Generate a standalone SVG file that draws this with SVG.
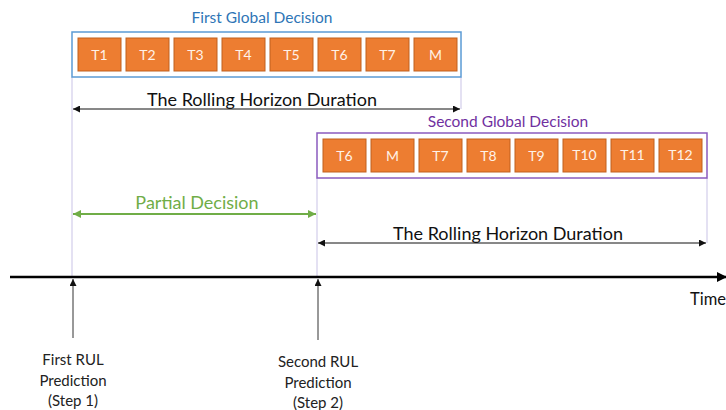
<svg xmlns="http://www.w3.org/2000/svg" width="726" height="410" viewBox="0 0 726 410">
<defs>
<style>
text{font-family:Lato,"Open Sans","Liberation Sans",sans-serif}
.tile rect{fill:#ED7D31;stroke:#C0601F;stroke-width:1}
.tile text{fill:#FFF2E8;font-size:14px;text-anchor:middle}
.guide{stroke:#C9C3E6;stroke-width:1;fill:none}
.dur{stroke:#111;stroke-width:1;fill:none}
.lbl{font-size:18px;fill:#111;text-anchor:middle}
.cap{font-size:15px;fill:#222;text-anchor:middle}
</style>
<marker id="ah" viewBox="0 0 10 10" refX="10" refY="5" markerWidth="8" markerHeight="7" markerUnits="userSpaceOnUse" orient="auto-start-reverse"><path d="M0,0 L10,5 L0,10 z" fill="#111"/></marker>
<marker id="ahg" viewBox="0 0 10 10" refX="10" refY="5" markerWidth="8" markerHeight="8" markerUnits="userSpaceOnUse" orient="auto-start-reverse"><path d="M0,0 L10,5 L0,10 z" fill="#70AD47"/></marker>
<marker id="ahb" viewBox="0 0 10 10" refX="9" refY="5" markerWidth="10" markerHeight="10" markerUnits="userSpaceOnUse" orient="auto"><path d="M0,0 L10,5 L0,10 z" fill="#000"/></marker>
</defs>
<rect width="726" height="410" fill="#fff"/>
<g id="connectors">
<line class="guide" x1="72" y1="77" x2="72" y2="277"/>
<line class="guide" x1="461" y1="77" x2="461" y2="109"/>
<line class="guide" x1="317" y1="178" x2="317" y2="277"/>
<line class="guide" x1="707" y1="178" x2="707" y2="243"/>
<line class="dur" x1="73" y1="109" x2="460" y2="109" marker-start="url(#ah)" marker-end="url(#ah)"/>
<line x1="73" y1="214" x2="316" y2="214" stroke="#70AD47" stroke-width="2" marker-start="url(#ahg)" marker-end="url(#ahg)"/>
<line class="dur" x1="318" y1="243" x2="706" y2="243" marker-start="url(#ah)" marker-end="url(#ah)"/>
<line x1="10" y1="277" x2="726" y2="277" stroke="#000" stroke-width="2.5" marker-end="url(#ahb)"/>
<line x1="73" y1="338" x2="73" y2="279" stroke="#333" stroke-width="1" marker-end="url(#ah)"/>
<line x1="318" y1="340" x2="318" y2="279" stroke="#333" stroke-width="1" marker-end="url(#ah)"/>
</g>
<g id="first-decision">
<text x="262" y="23" font-size="15.5" fill="#2E75B6" text-anchor="middle">First Global Decision</text>
<rect x="72" y="32" width="389" height="45" fill="none" stroke="#5B9BD5" stroke-width="1.5"/>
<g class="tile"><rect x="78" y="38" width="43" height="33"/><text x="99.5" y="59.5">T1</text></g>
<g class="tile"><rect x="126" y="38" width="43" height="33"/><text x="147.5" y="59.5">T2</text></g>
<g class="tile"><rect x="174" y="38" width="43" height="33"/><text x="195.5" y="59.5">T3</text></g>
<g class="tile"><rect x="222" y="38" width="43" height="33"/><text x="243.5" y="59.5">T4</text></g>
<g class="tile"><rect x="270" y="38" width="43" height="33"/><text x="291.5" y="59.5">T5</text></g>
<g class="tile"><rect x="318" y="38" width="43" height="33"/><text x="339.5" y="59.5">T6</text></g>
<g class="tile"><rect x="366" y="38" width="43" height="33"/><text x="387.5" y="59.5">T7</text></g>
<g class="tile"><rect x="414" y="38" width="43" height="33"/><text x="435.5" y="59.5">M</text></g>
</g>
<g id="second-decision">
<text x="508" y="127" font-size="15.5" fill="#7030A0" text-anchor="middle">Second Global Decision</text>
<rect x="317" y="133" width="390" height="45" fill="none" stroke="#8A5BBE" stroke-width="1.5"/>
<g class="tile"><rect x="323" y="139" width="43" height="33"/><text x="344.5" y="160.5">T6</text></g>
<g class="tile"><rect x="371" y="139" width="43" height="33"/><text x="392.5" y="160.5">M</text></g>
<g class="tile"><rect x="419" y="139" width="43" height="33"/><text x="440.5" y="160.5">T7</text></g>
<g class="tile"><rect x="467" y="139" width="43" height="33"/><text x="488.5" y="160.5">T8</text></g>
<g class="tile"><rect x="515" y="139" width="43" height="33"/><text x="536.5" y="160.5">T9</text></g>
<g class="tile"><rect x="563" y="139" width="43" height="33"/><text x="584.5" y="160" font-size="12">T10</text></g>
<g class="tile"><rect x="611" y="139" width="43" height="33"/><text x="632.5" y="160" font-size="12">T11</text></g>
<g class="tile"><rect x="659" y="139" width="43" height="33"/><text x="680.5" y="160" font-size="12">T12</text></g>
</g>
<g id="labels">
<text class="lbl" x="262" y="106">The Rolling Horizon Duration</text>
<text x="197" y="209" font-size="18" fill="#70AD47" text-anchor="middle">Partial Decision</text>
<text class="lbl" x="508" y="240">The Rolling Horizon Duration</text>
<text x="690" y="305" font-size="16.5" fill="#111">Time</text>
</g>
<g id="step1">
<text class="cap" x="73" y="365">First RUL</text>
<text class="cap" x="73" y="386">Prediction</text>
<text class="cap" x="73" y="406">(Step 1)</text>
</g>
<g id="step2">
<text class="cap" x="318" y="367">Second RUL</text>
<text class="cap" x="318" y="388">Prediction</text>
<text class="cap" x="318" y="408">(Step 2)</text>
</g>
</svg>
